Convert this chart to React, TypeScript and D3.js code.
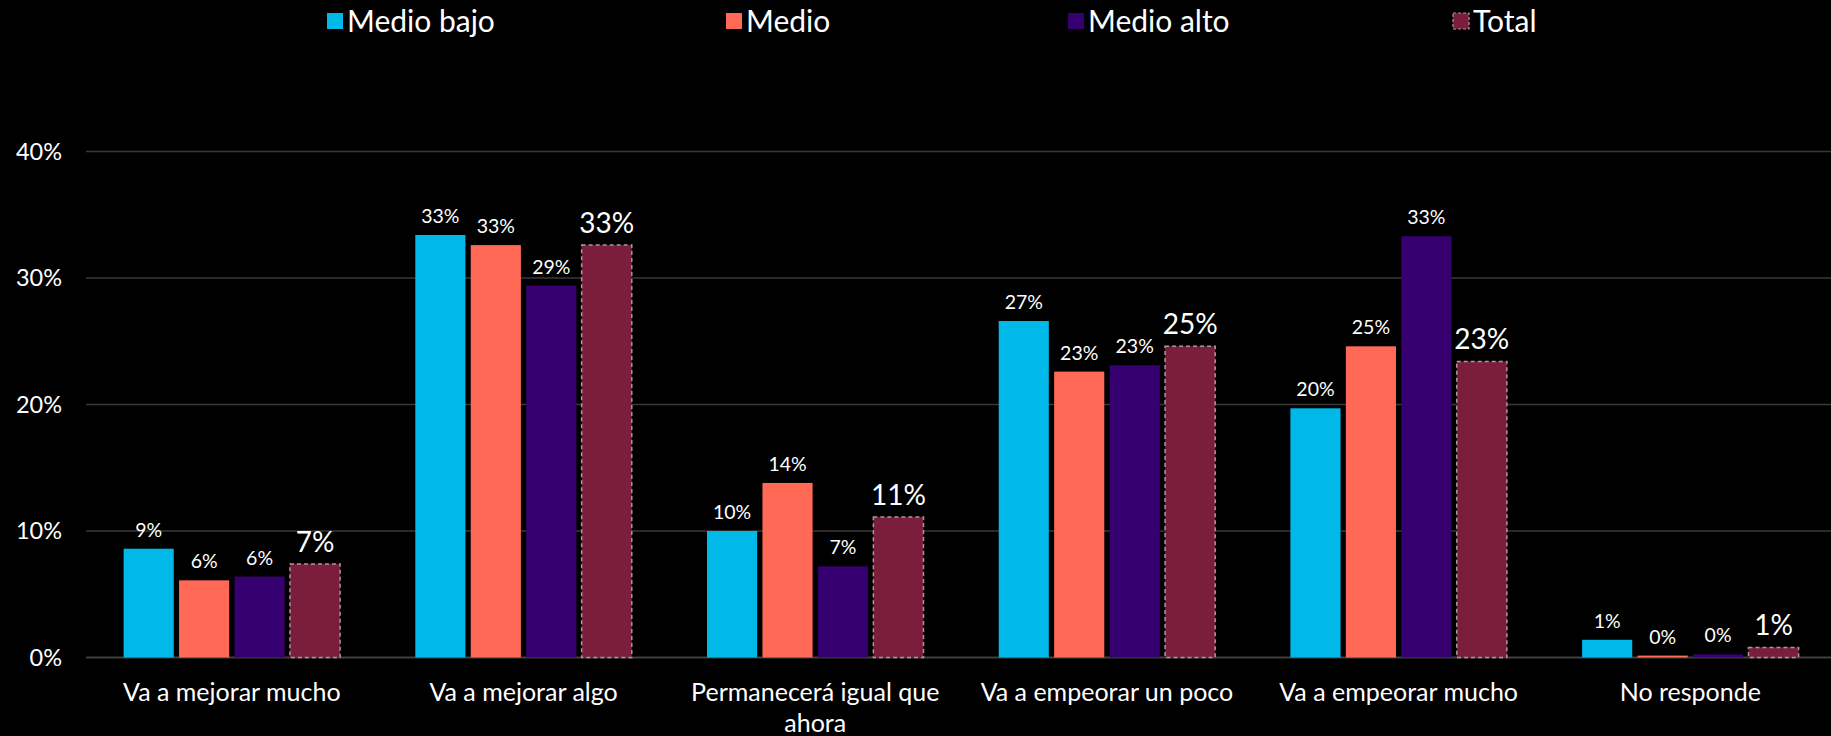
import React, { useEffect } from 'react';
import * as d3 from 'd3';

// categories and series (values in %)
const categories = [
  'Va a mejorar mucho',
  'Va a mejorar algo',
  'Permanecerá igual que ahora',
  'Va a empeorar un poco',
  'Va a empeorar mucho',
  'No responde',
];
const seriesNames = ['Medio bajo', 'Medio', 'Medio alto', 'Total'];
const medioBajo = [8.6, 33.4, 10.0, 26.6, 19.7, 1.4];
const medio = [6.1, 32.6, 13.8, 22.6, 24.6, 0.15];
const medioAlto = [6.4, 29.4, 7.2, 23.1, 33.3, 0.25];
const total = [7.4, 32.6, 11.1, 24.6, 23.4, 0.8];
const yTicks = [0, 10, 20, 30, 40];

const colors = ['#00B9E8', '#FF6956', '#370070', '#7A1E3C'];
const FONT = 'Lato, "Open Sans", sans-serif';

const width = 1831;
const height = 736;
const left = 86;
const bandW = 291.7;

// simple word wrap using canvas measuring
function wrap(text: string, maxW: number, font: string) {
  const ctx = document.createElement('canvas').getContext('2d');
  if (!ctx) return [text];
  ctx.font = font;
  const words = text.split(' ');
  const lines: string[] = [];
  let cur = '';
  words.forEach((w) => {
    const test = cur ? cur + ' ' + w : w;
    if (ctx.measureText(test).width > maxW && cur) {
      lines.push(cur);
      cur = w;
    } else cur = test;
  });
  if (cur) lines.push(cur);
  return lines;
}

export default function App() {
  useEffect(() => {
    document.body.style.margin = '0';
    document.body.style.background = '#000';
  }, []);

  const series = [medioBajo, medio, medioAlto, total];

  const x0 = d3
    .scaleBand<string>()
    .domain(categories)
    .range([left, left + bandW * categories.length])
    .padding(0);
  const x1 = d3
    .scaleBand<string>()
    .domain(seriesNames)
    .range([37.6, bandW - 37.6])
    .paddingInner(0.096);
  const y = d3.scaleLinear().domain([0, 40]).range([657.5, 151.5]);

  const legendX = [327, 726, 1068, 1453];

  return (
    <svg
      width={width}
      height={height}
      style={{ position: 'absolute', left: 0, top: 0, background: '#000', fontFamily: FONT }}
    >
      {/* grid */}
      {yTicks.map((t) => (
        <g key={t}>
          <line
            x1={left}
            x2={width}
            y1={y(t)}
            y2={y(t)}
            stroke={t === 0 ? '#404040' : '#383838'}
            strokeWidth={t === 0 ? 2 : 1.5}
          />
          <text
            x={62}
            y={y(t)}
            dy="0.35em"
            textAnchor="end"
            fill="#fff"
            fontSize={23.5}
          >
            {t}%
          </text>
        </g>
      ))}

      {/* bars */}
      {categories.map((c, i) => (
        <g key={c} transform={`translate(${x0(c)},0)`}>
          {series.map((s, j) => {
            const v = s[i];
            const bx = x1(seriesNames[j]) || 0;
            const bw = x1.bandwidth();
            const isTotal = j === 3;
            return (
              <g key={j}>
                <rect
                  x={bx}
                  y={y(v)}
                  width={bw}
                  height={y(0) - y(v)}
                  fill={colors[j]}
                  stroke={isTotal ? '#a898a0' : 'none'}
                  strokeWidth={isTotal ? 1.5 : 0}
                  strokeDasharray={isTotal ? '4 3' : undefined}
                />
                <text
                  x={bx + bw / 2}
                  y={y(v) - 12}
                  textAnchor="middle"
                  fill="#fff"
                  fontSize={isTotal ? 28 : 19.5}
                >
                  {Math.round(v)}%
                </text>
              </g>
            );
          })}
          {wrap(c, bandW - 20, `25px ${FONT}`).map((line, k) => (
            <text
              key={k}
              x={bandW / 2}
              y={701 + k * 31}
              textAnchor="middle"
              fill="#fff"
              fontSize={25}
            >
              {line}
            </text>
          ))}
        </g>
      ))}

      {/* legend */}
      {seriesNames.map((n, j) => (
        <g key={n} transform={`translate(${legendX[j]},13)`}>
          <rect
            width={16}
            height={16}
            fill={colors[j]}
            stroke={j === 3 ? '#a898a0' : 'none'}
            strokeWidth={j === 3 ? 1.2 : 0}
            strokeDasharray={j === 3 ? '3 2' : undefined}
          />
          <text x={20} y={8} dy="0.36em" fill="#fff" fontSize={30}>
            {n}
          </text>
        </g>
      ))}
    </svg>
  );
}
